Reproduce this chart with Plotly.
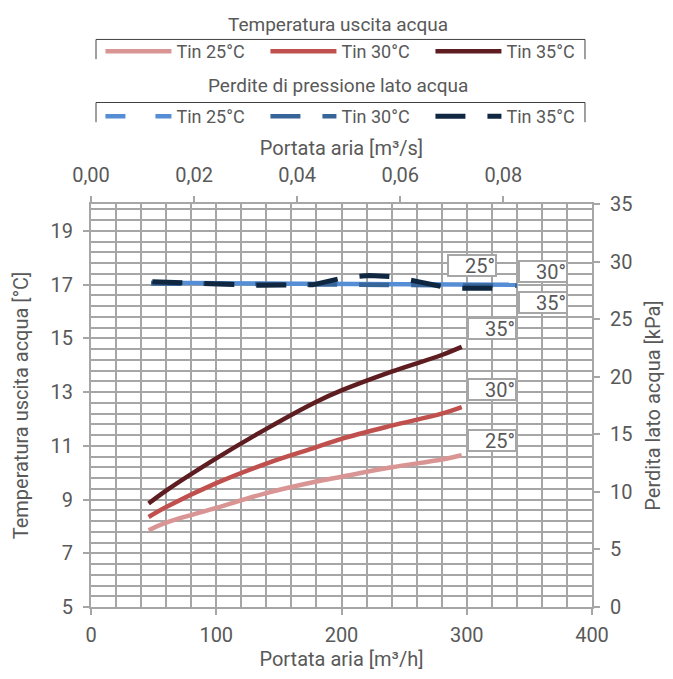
import plotly.graph_objects as go

# ---- data ----
x_temp = [46, 60, 100, 140, 180, 200, 240, 280, 296]
t_out_25 = [7.86, 8.14, 8.69, 9.24, 9.67, 9.85, 10.20, 10.49, 10.65]
t_out_30 = [8.35, 8.72, 9.61, 10.34, 10.95, 11.26, 11.75, 12.20, 12.44]
t_out_35 = [8.85, 9.33, 10.53, 11.63, 12.64, 13.06, 13.76, 14.38, 14.68]

x_dp = [48, 150, 250, 340]
dp_25 = [28.15, 28.10, 28.03, 27.98]
dp_30 = [28.10, 28.00, 27.92, 27.90]
x_dp35 = [49, 87, 135, 177, 201, 222, 242, 262, 285, 302, 326]
dp_35 = [28.24, 28.11, 27.94, 27.98, 28.58, 28.80, 28.67, 28.24, 27.72, 27.68, 27.68]

top_axis_range = [0, 0.0972]   # Portata aria [m³/s]

temp_names = ["Tin 25°C", "Tin 30°C", "Tin 35°C"]
dp_names = ["Tin 25°C", "Tin 30°C", "Tin 35°C"]
legend_titles = ["Temperatura uscita acqua", "Perdite di pressione lato acqua"]

temp_labels = ["25°", "30°", "35°"]
dp_labels = ["25°", "30°", "35°"]

# ---- style ----
FONT = "Roboto"
TXT = "#595959"
GRID = "#A6A6A6"
c_temp = ["#D99594", "#C0504D", "#5E1D21"]
c_dp = ["#558ED5", "#376499", "#0F2741"]
DASH = "30px,22px"

fig = go.Figure()

for ys, name, col in zip([t_out_25, t_out_30, t_out_35], temp_names, c_temp):
    fig.add_trace(go.Scatter(x=x_temp, y=ys, name=name, mode="lines",
                             line=dict(color=col, width=4.5, shape="spline"),
                             legend="legend", xaxis="x", yaxis="y"))

# pressure drop (right axis)
fig.add_trace(go.Scatter(x=x_dp, y=dp_25, name=dp_names[0], mode="lines",
                         line=dict(color=c_dp[0], width=4.5), showlegend=False,
                         legendgroup="p25", xaxis="x", yaxis="y2"))
fig.add_trace(go.Scatter(x=[None], y=[None], name=dp_names[0], mode="lines",
                         line=dict(color=c_dp[0], width=4.5, dash="20px,30px"),
                         legendgroup="p25", legend="legend2", xaxis="x", yaxis="y2"))
fig.add_trace(go.Scatter(x=x_dp, y=dp_30, name=dp_names[1], mode="lines",
                         line=dict(color=c_dp[1], width=4.5, dash=DASH),
                         legend="legend2", xaxis="x", yaxis="y2"))
fig.add_trace(go.Scatter(x=x_dp35, y=dp_35, name=dp_names[2], mode="lines",
                         line=dict(color=c_dp[2], width=5, dash=DASH),
                         legend="legend2", xaxis="x", yaxis="y2"))
# anchor trace so the top (m³/s) axis is drawn
fig.add_trace(go.Scatter(x=[None], y=[None], xaxis="x2", yaxis="y",
                         showlegend=False, hoverinfo="skip"))

axis_common = dict(showline=True, linecolor=GRID, linewidth=2,
                   ticks="outside", tickcolor=GRID, ticklen=6, tickwidth=1.5,
                   tickfont=dict(family=FONT, size=20, color=TXT),
                   zeroline=False, automargin=True)
TFONT = dict(family=FONT, size=20, color=TXT)

legend_common = dict(orientation="h", xref="container", yref="container",
                     x=0.517, xanchor="center", yanchor="top", traceorder="normal",
                     font=dict(size=18, color=TXT, family=FONT),
                     entrywidth=84, entrywidthmode="pixels", itemwidth=66,
                     bgcolor="rgba(0,0,0,0)", tracegroupgap=0)

fig.update_layout(
    width=673, height=679,
    margin=dict(l=91, r=80, t=200, b=70),
    plot_bgcolor="white", paper_bgcolor="white",
    separators=",.",
    font=dict(family=FONT, size=18, color=TXT),
    xaxis=dict(range=[0, 400], dtick=100, tick0=0, ticklabelstandoff=3,
               title=dict(text="Portata aria [m³/h]", font=TFONT, standoff=6),
               showgrid=True, gridcolor=GRID, gridwidth=1.5,
               minor=dict(dtick=20, tick0=0, showgrid=True, gridcolor=GRID, gridwidth=1.5),
               **axis_common),
    xaxis2=dict(range=top_axis_range, dtick=0.02, tick0=0, tickformat=".2f",
                overlaying="x", side="top", anchor="y", ticklabelstandoff=6,
                title=dict(text="Portata aria [m³/s]", font=TFONT, standoff=2),
                showgrid=False, **axis_common),
    yaxis=dict(range=[5, 20], dtick=2, tick0=5, ticklabelstandoff=6,
               title=dict(text="Temperatura uscita acqua [°C]", font=TFONT, standoff=17),
               showgrid=True, gridcolor=GRID, gridwidth=1.5,
               minor=dict(dtick=0.4, tick0=5, showgrid=True, gridcolor=GRID, gridwidth=1.5),
               **axis_common),
    yaxis2=dict(range=[0, 35], dtick=5, tick0=0, overlaying="y", side="right", anchor="x",
                ticklabelstandoff=6,
                title=dict(text="Perdita lato acqua [kPa]", font=TFONT, standoff=15),
                showgrid=False, **axis_common),
    legend=dict(y=1 - 33 / 679, **legend_common),
    legend2=dict(y=1 - 98 / 679, **legend_common),
)

# legend group titles and brackets
def paper_y(px):
    return (609 - px) / 409

for title, ypx in zip(legend_titles, [18, 80]):
    fig.add_annotation(text=title, x=(338 - 91) / 502, y=paper_y(ypx), xref="paper", yref="paper",
                       showarrow=False, xanchor="center", yanchor="middle",
                       font=dict(family=FONT, size=19, color=TXT))

def bracket(x0, x1, ytop, ybot):
    return dict(type="path", xref="paper", yref="paper",
                path=f"M {x0},{ybot} L {x0},{ytop} L {x1},{ytop} L {x1},{ybot}",
                line=dict(color="#404040", width=1))

fig.add_shape(bracket(0.010, 0.986, paper_y(33), paper_y(53)))
fig.add_shape(bracket(0.010, 0.986, paper_y(97), paper_y(117)))

# curve labels
def label(text, x, y):
    fig.add_annotation(text=text, x=x, y=y, xref="x", yref="y", showarrow=False,
                       font=dict(family=FONT, size=20, color=TXT),
                       bgcolor="white", bordercolor=GRID, borderwidth=2, borderpad=0,
                       width=46, height=19, align="right")

label(dp_labels[0], 304, 17.71)
label(dp_labels[1], 361, 17.49)
label(dp_labels[2], 361, 16.34)
label(temp_labels[2], 320, 15.35)
label(temp_labels[1], 320, 13.08)
label(temp_labels[0], 320, 11.21)

fig.write_html("out.html", config={"displayModeBar": False},
               post_script="document.body.style.margin='0px';")
